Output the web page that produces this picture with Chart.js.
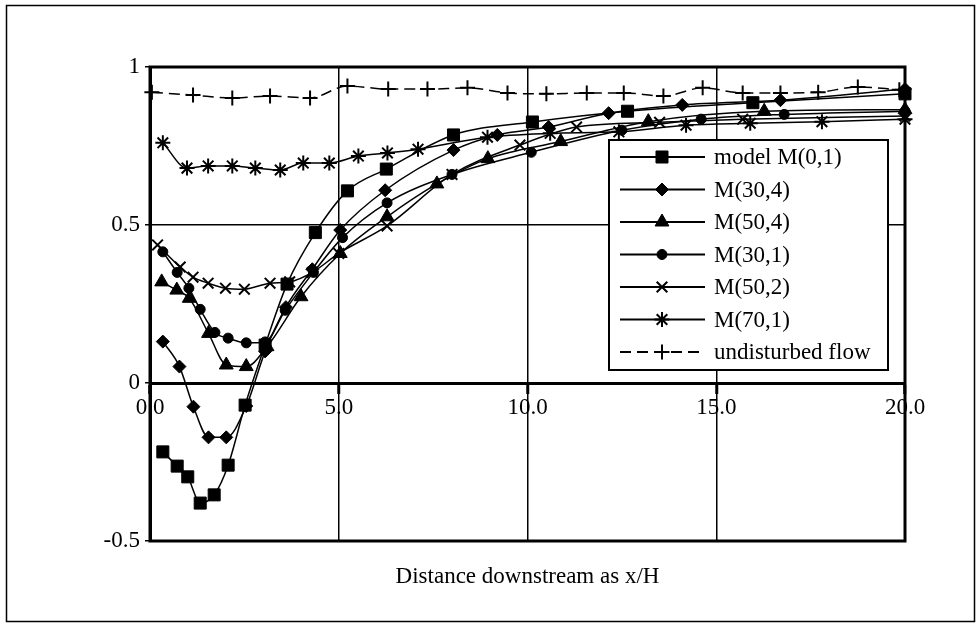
<!DOCTYPE html>
<html>
<head>
<meta charset="utf-8">
<script src="https://cdn.jsdelivr.net/npm/chart.js@4/dist/chart.umd.min.js"></script>
<style>
  html, body { margin: 0; padding: 0; background: #fff; }
</style>
</head>
<body>
<canvas id="chart" width="980" height="627"></canvas>
<script>
// values (x = distance downstream as x/H)
const seriesNames = ["model M(0,1)", "M(30,4)", "M(50,4)", "M(30,1)", "M(50,2)", "M(70,1)", "undisturbed flow"];

const m01X = [0.34, 0.72, 1.0, 1.33, 1.7, 2.07, 2.52, 3.05, 3.63, 4.38, 5.23, 6.26, 8.04, 10.13, 12.65, 15.97, 20];
const m01Y = [-0.218, -0.263, -0.297, -0.38, -0.354, -0.26, -0.07, 0.12, 0.313, 0.476, 0.608, 0.677, 0.785, 0.826, 0.86, 0.887, 0.915];

const m304X = [0.34, 0.78, 1.15, 1.55, 2.02, 2.55, 3.05, 3.6, 4.3, 5.04, 6.23, 8.04, 9.2, 10.56, 12.15, 14.1, 16.7, 20];
const m304Y = [0.131, 0.052, -0.075, -0.172, -0.172, -0.073, 0.1, 0.24, 0.36, 0.484, 0.61, 0.737, 0.785, 0.81, 0.854, 0.88, 0.895, 0.93];

const m504X = [0.31, 0.71, 1.04, 1.55, 2.02, 2.55, 3.1, 4.0, 5.04, 6.28, 7.6, 8.95, 10.88, 13.2, 16.27, 20];
const m504Y = [0.32, 0.294, 0.268, 0.157, 0.057, 0.052, 0.115, 0.273, 0.41, 0.526, 0.63, 0.71, 0.764, 0.827, 0.86, 0.865];

const m301X = [0.34, 0.72, 1.03, 1.33, 1.72, 2.07, 2.55, 3.05, 3.58, 4.33, 5.1, 6.28, 8.0, 10.1, 12.5, 14.6, 16.8, 20];
const m301Y = [0.415, 0.35, 0.3, 0.233, 0.16, 0.142, 0.127, 0.13, 0.23, 0.35, 0.46, 0.57, 0.66, 0.73, 0.8, 0.835, 0.85, 0.86];

const m502X = [0.2, 0.8, 1.14, 1.54, 2.0, 2.5, 3.18, 3.7, 4.3, 5.0, 6.28, 8.0, 9.8, 11.3, 13.5, 15.7, 20];
const m502Y = [0.437, 0.367, 0.335, 0.316, 0.3, 0.297, 0.316, 0.32, 0.35, 0.41, 0.497, 0.66, 0.753, 0.81, 0.825, 0.835, 0.845];

const m701X = [0.34, 0.98, 1.54, 2.18, 2.79, 3.45, 4.06, 4.75, 5.52, 6.29, 7.1, 8.94, 10.6, 12.42, 14.2, 15.9, 17.8, 20];
const m701Y = [0.76, 0.68, 0.687, 0.687, 0.68, 0.674, 0.696, 0.696, 0.718, 0.728, 0.74, 0.778, 0.79, 0.795, 0.816, 0.822, 0.827, 0.835];

const flowX = [0.05, 1.14, 2.18, 3.18, 4.24, 5.23, 6.31, 7.35, 8.41, 9.47, 10.5, 11.57, 12.55, 13.6, 14.64, 15.7, 16.7, 17.7, 18.75, 19.85];
const flowY = [0.92, 0.911, 0.902, 0.908, 0.902, 0.94, 0.93, 0.93, 0.934, 0.918, 0.915, 0.918, 0.918, 0.908, 0.934, 0.918, 0.918, 0.92, 0.937, 0.928];

const xTickLabels = ["0.0", "5.0", "10.0", "15.0", "20.0"];
const yTickLabels = ["-0.5", "0", "0.5", "1"];
const xTitle = "Distance downstream as x/H";

const FONT = '"Liberation Serif", "Times New Roman", serif';

function pts(xs, ys) {
  return xs.map((x, i) => ({ x: x, y: ys[i] }));
}

function series(label, xs, ys, style, radius, stroked, dash) {
  return {
    label: label,
    data: pts(xs, ys),
    showLine: true,
    borderColor: "#000",
    borderWidth: 1.5,
    borderDash: dash || [],
    cubicInterpolationMode: "monotone",
    pointStyle: style,
    pointRadius: radius,
    pointHoverRadius: radius,
    pointBackgroundColor: stroked ? "rgba(0,0,0,0)" : "#000",
    pointBorderColor: "#000",
    pointBorderWidth: stroked ? 2 : 1,
    clip: false
  };
}

const datasets = [
  series(seriesNames[0], m01X, m01Y, "rect", 8.5, false),
  series(seriesNames[1], m304X, m304Y, "rectRot", 6.5, false),
  series(seriesNames[2], m504X, m504Y, "triangle", 8, false),
  series(seriesNames[3], m301X, m301Y, "circle", 5, false),
  series(seriesNames[4], m502X, m502Y, "crossRot", 7.5, true),
  series(seriesNames[5], m701X, m701Y, "star", 7.5, true),
  series(seriesNames[6], flowX, flowY, "cross", 7.5, true, [11, 6])
];

// frame, x title and the boxed legend inside the plot
const extras = {
  id: "extras",
  beforeDraw(chart) {
    const ctx = chart.ctx;
    ctx.save();
    ctx.fillStyle = "#fff";
    ctx.fillRect(0, 0, chart.width, chart.height);
    ctx.restore();
  },
  afterDraw(chart) {
    const ctx = chart.ctx;
    const a = chart.chartArea;
    ctx.save();
    ctx.strokeStyle = "#000";
    ctx.lineWidth = 3;
    ctx.strokeRect(a.left, a.top, a.right - a.left, a.bottom - a.top);

    ctx.lineWidth = 1.5;
    ctx.strokeRect(6.5, 5.5, 968, 616);

    ctx.fillStyle = "#000";
    ctx.font = "23px " + FONT;
    ctx.textAlign = "center";
    ctx.textBaseline = "middle";
    ctx.fillText(xTitle, (a.left + a.right) / 2, 577);

    // legend
    const bx = 609, by = 140, bw = 279, bh = 230;
    ctx.fillStyle = "#fff";
    ctx.fillRect(bx, by, bw, bh);
    ctx.lineWidth = 2;
    ctx.strokeRect(bx, by, bw, bh);
    ctx.textAlign = "left";
    chart.data.datasets.forEach((ds, i) => {
      const cy = 157 + i * 32.5;
      ctx.save();
      ctx.strokeStyle = "#000";
      ctx.lineWidth = 2;
      ctx.setLineDash(ds.borderDash);
      ctx.beginPath();
      ctx.moveTo(620, cy);
      ctx.lineTo(705, cy);
      ctx.stroke();
      ctx.setLineDash([]);
      ctx.fillStyle = ds.pointBackgroundColor;
      ctx.strokeStyle = "#000";
      ctx.lineWidth = ds.pointBorderWidth;
      Chart.helpers.drawPoint(ctx, {
        pointStyle: ds.pointStyle,
        radius: ds.pointRadius,
        rotation: 0,
        borderWidth: ds.pointBorderWidth
      }, 662, cy);
      ctx.restore();
      ctx.fillStyle = "#000";
      ctx.font = "23px " + FONT;
      ctx.fillText(ds.label, 714, cy + 1);
    });
    ctx.restore();
  }
};

new Chart(document.getElementById("chart"), {
  type: "scatter",
  data: { datasets: datasets },
  options: {
    responsive: false,
    animation: false,
    events: [],
    layout: { padding: { left: 0, top: 67, right: 75, bottom: 86 } },
    plugins: {
      legend: { display: false },
      tooltip: { enabled: false },
      title: { display: false }
    },
    scales: {
      x: {
        type: "linear",
        position: { y: 0 },
        min: 0,
        max: 20,
        ticks: {
          stepSize: 5,
          color: "#000",
          font: { family: FONT, size: 23 },
          padding: 2,
          maxRotation: 0,
          callback: (v) => xTickLabels[Math.round(v / 5)]
        },
        grid: { color: "#000", lineWidth: 1.5, tickLength: 9, tickWidth: 3, tickColor: "#000" },
        border: { color: "#000", width: 3 }
      },
      y: {
        type: "linear",
        min: -0.5,
        max: 1,
        afterFit: (scale) => { scale.width = 150; },
        ticks: {
          stepSize: 0.5,
          color: "#000",
          font: { family: FONT, size: 23 },
          padding: 5,
          callback: (v) => yTickLabels[Math.round((v + 0.5) / 0.5)]
        },
        grid: { color: "#000", lineWidth: 1.5, tickLength: 5, tickColor: "#000" },
        border: { color: "#000", width: 3 }
      }
    }
  },
  plugins: [extras]
});
</script>
</body>
</html>
